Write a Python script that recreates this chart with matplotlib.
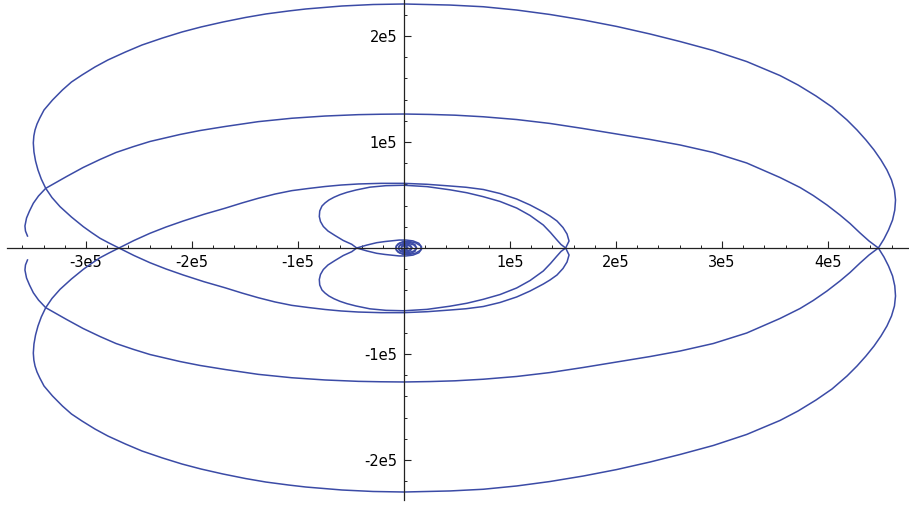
import numpy as np
import matplotlib.pyplot as plt
from matplotlib.ticker import MultipleLocator, FuncFormatter

# One branch of the parametric curve (units of 1e3).
# The other branch is the same curve mirrored in the x axis.

# small loops round the origin and the way out to the first crossing
core_x = [0.5, 2.5, 3.5, 2.2, 0.5, -1.5, -2.6, -1.8, 0.5, 3.5,
          6.0, 7.5, 6.0, 2.5, -1.5, -4.5, -5.2, -3.8, 0.0, 4.5,
          9.0, 11.8, 10.5, 6.5, 1.0, -4.0, -7.2, -7.6, -5.5, -1.0,
          5.0, 11.0, 15.5, 16.6, 14.0, 8.5, 2.0, -4.5, -10.1, -17.9,
          -25.8, -34.9]
core_y = [1.0, 0.8, -0.5, -1.8, -2.2, -1.6, 0.0, 2.0, 2.8, 2.6,
          1.5, -0.3, -2.6, -3.8, -3.4, -1.8, 0.3, 2.9, 4.3, 4.3,
          3.0, 0.5, -3.0, -5.0, -5.6, -4.6, -2.2, 0.8, 4.0, 6.0,
          6.2, 4.8, 2.2, -1.0, -4.5, -6.7, -7.5, -7.5, -6.9, -6.1,
          -5.0, -2.8]

# left lobe and inner arc over the top, down to 1.5e5
lobe_x = [-44.6, -49.3, -57.3, -65.1, -71.7, -76.1, -78.8, -79.9, -79.5, -77.4,
          -74.5, -70.8, -66.0, -60.4, -53.8, -45.3, -32.1, -17.0, 0.0, 21.7,
          43.4, 59.4, 74.8, 90.6, 106.3, 118.9, 131.4, 138.2, 143.9, 148.1,
          152.5]
lobe_y = [0.0, 3.5, 7.1, 11.8, 16.0, 20.3, 25.0, 29.7, 34.9, 39.6,
          42.5, 45.3, 47.9, 50.3, 52.5, 54.7, 57.4, 58.8, 59.2, 57.9,
          54.9, 52.1, 48.4, 43.9, 37.7, 30.7, 21.7, 14.6, 8.0, 3.3,
          0.0]

# arc under the origin out to -2.7e5
mid_x = [155.7, 153.8, 150.0, 144.3, 137.7, 131.4, 118.9, 106.3, 90.6, 74.8,
         58.5, 43.4, 21.7, 0.0, -21.7, -43.1, -59.4, -74.5, -90.6, -105.9,
         -121.7, -137.5, -152.8, -168.9, -188.7, -208.2, -224.5, -239.6, -254.7]
mid_y = [-6.6, -13.2, -19.3, -25.5, -30.2, -34.0, -40.6, -46.2, -51.4, -55.2,
         -57.3, -58.5, -60.1, -61.0, -61.0, -60.4, -59.4, -58.0, -56.1, -54.1,
         -50.9, -46.9, -42.5, -37.5, -31.8, -25.5, -19.8, -13.9, -7.1]

# big outer arc over the top, from -2.7e5 round to 4.5e5
outer_x = [-268.9, -278.3, -286.8, -294.8, -302.5, -313.7, -324.5, -332.1, -338.0, -342.2,
           -345.3, -347.6, -349.1, -349.7, -349.2, -348.1, -346.2, -343.6, -339.6, -331.6,
           -322.2, -313.7, -303.8, -291.5, -279.3, -262.8, -247.2, -227.8, -209.4, -191.5,
           -170.8, -149.4, -130.2, -108.9, -92.5, -76.0, -58.5, -29.2, 0.0, 43.4,
           74.8, 106.3, 137.7, 169.2, 200.7, 232.1, 260.4, 291.8, 323.3, 354.7,
           371.7, 388.7, 403.8, 417.9, 427.4, 435.8, 443.4, 450.0, 455.6, 459.9,
           462.7, 463.7, 463.0, 460.9, 457.1, 452.8, 447.5]
outer_y = [0.0, 4.7, 9.2, 14.6, 20.1, 29.2, 39.0, 47.6, 56.3, 65.1,
           73.6, 82.1, 90.6, 99.1, 105.7, 111.3, 117.0, 122.6, 130.2, 139.6,
           149.1, 156.6, 163.2, 170.8, 177.4, 184.9, 191.5, 198.1, 203.8, 208.5,
           213.2, 217.5, 220.8, 223.6, 225.5, 226.9, 228.3, 229.7, 230.2, 229.2,
           227.6, 224.5, 220.3, 215.1, 209.0, 201.9, 194.8, 186.3, 175.9, 162.7,
           153.8, 143.4, 133.0, 120.8, 111.3, 101.9, 92.5, 83.0, 73.6, 64.2,
           54.7, 45.3, 35.8, 26.4, 17.0, 8.5, 0.0]

# last arc under the origin to the end point on the left
tail_x = [438.7, 430.2, 420.8, 411.3, 399.0, 386.1, 373.6, 354.7, 323.3, 291.8,
          260.4, 232.1, 200.7, 169.2, 137.7, 106.3, 74.8, 48.1, 24.5, 0.0,
          -21.7, -43.1, -74.5, -105.9, -137.5, -168.9, -192.5, -211.3, -223.9, -239.6,
          -255.4, -271.7, -286.8, -302.8, -318.2, -329.2, -338.0, -344.8, -349.7, -353.3,
          -356.1, -357.6, -357.1, -355.2]
tail_y = [-6.6, -14.2, -23.1, -31.1, -40.6, -49.5, -57.1, -66.5, -80.2, -90.1,
          -97.2, -102.4, -107.5, -112.7, -117.5, -121.2, -123.8, -125.3, -126.0, -126.4,
          -126.2, -125.8, -124.5, -122.4, -119.2, -114.6, -110.8, -107.1, -104.2, -100.5,
          -95.6, -90.1, -83.5, -75.9, -67.5, -61.3, -56.3, -49.1, -42.2, -34.9,
          -28.3, -20.8, -16.0, -11.3]

x = np.concatenate([core_x, lobe_x, mid_x, outer_x, tail_x]) * 1e3
y = np.concatenate([core_y, lobe_y, mid_y, outer_y, tail_y]) * 1e3

plt.rcParams['axes.unicode_minus'] = False

W, H = 909, 508
fig = plt.figure(figsize=(W / 100, H / 100), dpi=100)
ax = fig.add_axes([7 / W, 8 / H, 902 / W, 500 / H])

line_color = "#3b4ba6"
ax.plot(x, y, color=line_color, lw=1.1, solid_joinstyle="round")
ax.plot(x, -y, color=line_color, lw=1.1, solid_joinstyle="round")

# 106 px per 1e5 on both axes, origin at (404, 248) px
ax.set_xlim((7 - 404) / 106 * 1e5, (909 - 404) / 106 * 1e5)
ax.set_ylim((248 - 500) / 106 * 1e5, 248 / 106 * 1e5)

for s in ["top", "right"]:
    ax.spines[s].set_visible(False)
ax.spines["left"].set_position("zero")
ax.spines["bottom"].set_position("zero")
for s in ["left", "bottom"]:
    ax.spines[s].set_linewidth(0.9)
    ax.spines[s].set_color("#222222")

fmt = FuncFormatter(lambda v, pos: "" if abs(v) < 1 else "%de5" % round(v / 1e5))
for axis in [ax.xaxis, ax.yaxis]:
    axis.set_major_locator(MultipleLocator(1e5))
    axis.set_minor_locator(MultipleLocator(2e4))
    axis.set_major_formatter(fmt)

ax.tick_params(which="major", direction="in", length=5, width=0.8, color="#222222",
               labelsize=10.5, pad=5)
ax.tick_params(which="minor", direction="in", length=2.5, width=0.7, color="#222222")
ax.patch.set_alpha(0)

fig.savefig("out.png", dpi=100)
